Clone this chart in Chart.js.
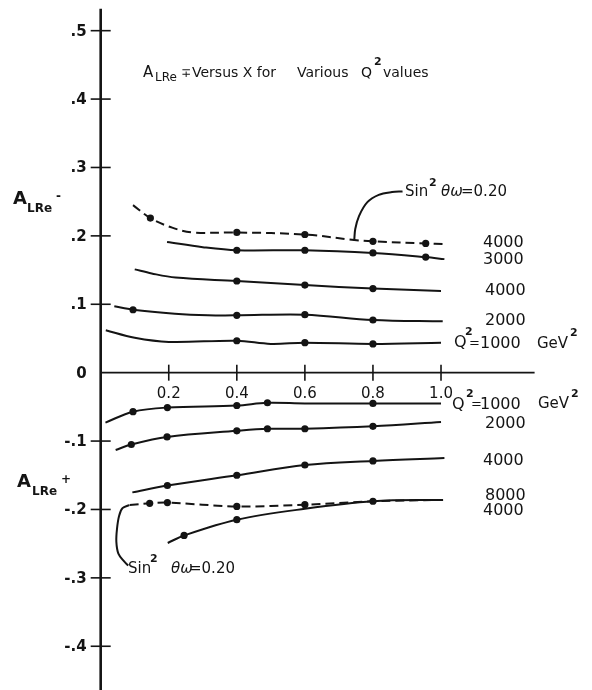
<!DOCTYPE html>
<html>
<head>
<meta charset="utf-8">
<script src="https://cdn.jsdelivr.net/npm/chart.js@4.4.1/dist/chart.umd.min.js"></script>
<style>
  html, body { margin: 0; padding: 0; background: #fff; }
  canvas { display: block; }
</style>
</head>
<body>
<canvas id="chart" width="592" height="690"></canvas>
<script>
// ── Axis ticks ───────────────────────────────────────────────────────────────
const xTicks      = [0.2, 0.4, 0.6, 0.8, 1.0];
const xTickLabels = ['0.2', '0.4', '0.6', '0.8', '1.0'];
const yTicks      = [0.5, 0.4, 0.3, 0.2, 0.1, 0, -0.1, -0.2, -0.3, -0.4];
const yTickLabels = ['.5', '.4', '.3', '.2', '.1', '0', '-.1', '-.2', '-.3', '-.4'];

// ── A_LRe- curves (upper half) ───────────────────────────────────────────────
const minusS020Q4000X = [0.095, 0.146, 0.21, 0.27, 0.40, 0.60, 0.745, 0.80, 0.955, 1.01];
const minusS020Q4000Y = [0.245, 0.226, 0.212, 0.205, 0.205, 0.202, 0.194, 0.192, 0.189, 0.188];
const minusS020Q4000DotX = [0.146, 0.40, 0.60, 0.80, 0.955];
const minusS020Q4000DotY = [0.226, 0.205, 0.202, 0.192, 0.189];

const minusQ3000X = [0.195, 0.30, 0.40, 0.60, 0.80, 0.955, 1.01];
const minusQ3000Y = [0.191, 0.1835, 0.179, 0.179, 0.175, 0.169, 0.166];
const minusQ3000DotX = [0.40, 0.60, 0.80, 0.955];
const minusQ3000DotY = [0.179, 0.179, 0.175, 0.169];

const minusQ4000X = [0.10, 0.15, 0.22, 0.40, 0.60, 0.80, 1.0];
const minusQ4000Y = [0.151, 0.145, 0.139, 0.134, 0.128, 0.123, 0.1195];
const minusQ4000DotX = [0.40, 0.60, 0.80];
const minusQ4000DotY = [0.134, 0.128, 0.123];

const minusQ2000X = [0.04, 0.095, 0.218, 0.315, 0.40, 0.60, 0.80, 1.005];
const minusQ2000Y = [0.097, 0.092, 0.0863, 0.084, 0.0838, 0.0848, 0.077, 0.075];
const minusQ2000DotX = [0.095, 0.40, 0.60, 0.80];
const minusQ2000DotY = [0.092, 0.0838, 0.0848, 0.077];

const minusQ1000X = [0.015, 0.10, 0.20, 0.40, 0.50, 0.60, 0.80, 1.0];
const minusQ1000Y = [0.062, 0.051, 0.045, 0.0467, 0.042, 0.0438, 0.042, 0.0438];
const minusQ1000DotX = [0.40, 0.60, 0.80];
const minusQ1000DotY = [0.0467, 0.0438, 0.042];

// ── A_LRe+ curves (lower half) ───────────────────────────────────────────────
const plusQ1000X = [0.014, 0.095, 0.196, 0.40, 0.49, 0.60, 0.80, 1.0];
const plusQ1000Y = [-0.073, -0.057, -0.051, -0.048, -0.044, -0.045, -0.045, -0.045];
const plusQ1000DotX = [0.095, 0.196, 0.40, 0.49, 0.80];
const plusQ1000DotY = [-0.057, -0.051, -0.048, -0.044, -0.045];

const plusQ2000X = [0.044, 0.09, 0.195, 0.40, 0.49, 0.60, 0.80, 1.0];
const plusQ2000Y = [-0.113, -0.105, -0.094, -0.085, -0.082, -0.082, -0.0785, -0.072];
const plusQ2000DotX = [0.09, 0.195, 0.40, 0.49, 0.60, 0.80];
const plusQ2000DotY = [-0.105, -0.094, -0.085, -0.082, -0.082, -0.0785];

const plusQ4000X = [0.093, 0.196, 0.40, 0.60, 0.80, 1.01];
const plusQ4000Y = [-0.175, -0.165, -0.150, -0.135, -0.129, -0.1247];
const plusQ4000DotX = [0.196, 0.40, 0.60, 0.80];
const plusQ4000DotY = [-0.165, -0.150, -0.135, -0.129];

const plusS020Q4000X = [0.085, 0.144, 0.196, 0.40, 0.60, 0.80, 1.006];
const plusS020Q4000Y = [-0.1935, -0.191, -0.190, -0.1955, -0.193, -0.188, -0.186];
const plusS020Q4000DotX = [0.144, 0.196, 0.40, 0.60, 0.80];
const plusS020Q4000DotY = [-0.191, -0.190, -0.1955, -0.193, -0.188];

const plusQ8000X = [0.197, 0.245, 0.40, 0.60, 0.80, 1.006];
const plusQ8000Y = [-0.249, -0.238, -0.215, -0.199, -0.188, -0.186];
const plusQ8000DotX = [0.245, 0.40];
const plusQ8000DotY = [-0.238, -0.215];

// ── Leader lines of the Sin²θw = 0.20 notes ──────────────────────────────────
const upperLeaderX = [0.745, 0.748, 0.759, 0.783, 0.817, 0.856, 0.887];
const upperLeaderY = [0.193, 0.21, 0.229, 0.249, 0.26, 0.264, 0.265];
const lowerLeaderX = [0.084, 0.064, 0.054, 0.048, 0.046, 0.052, 0.069, 0.081];
const lowerLeaderY = [-0.1936, -0.198, -0.2095, -0.228, -0.247, -0.2645, -0.276, -0.282];

// ── Helpers ──────────────────────────────────────────────────────────────────
const INK  = '#141414';
const FONT = "'DejaVu Sans', sans-serif";

function pts(xs, ys) {
    return xs.map((x, i) => ({ x: x, y: ys[i] }));
}

function curve(xs, ys, dashed) {
    return {
        type: 'line',
        data: pts(xs, ys),
        borderColor: INK,
        borderWidth: 2,
        borderDash: dashed ? [9, 5] : [],
        pointRadius: 0,
        tension: 0.35,
        fill: false
    };
}

function dots(xs, ys) {
    return {
        type: 'scatter',
        data: pts(xs, ys),
        backgroundColor: INK,
        borderColor: INK,
        borderWidth: 0,
        pointRadius: 3.6,
        showLine: false
    };
}

function txt(ctx, s, x, y, size, opts = {}) {
    ctx.font = `${opts.italic ? 'italic ' : ''}${opts.bold ? 'bold ' : ''}${size}px ${FONT}`;
    ctx.textAlign = opts.align || 'left';
    ctx.textBaseline = opts.baseline || 'alphabetic';
    ctx.fillText(s, x, y);
}

// ── Axes, ticks and lettering ────────────────────────────────────────────────
const yAxisTop = 0.532;
const xAxisEnd = 1.275;

const handAxes = {
    id: 'handAxes',
    beforeDatasetsDraw(chart) {
        const { ctx, scales: { x, y } } = chart;
        const x0 = x.getPixelForValue(0);
        const y0 = y.getPixelForValue(0);
        ctx.save();
        ctx.strokeStyle = INK;
        ctx.fillStyle = INK;

        // vertical axis
        ctx.lineWidth = 2.6;
        ctx.beginPath();
        ctx.moveTo(x0, y.getPixelForValue(yAxisTop));
        ctx.lineTo(x0, chart.height);
        ctx.stroke();

        // horizontal axis
        ctx.lineWidth = 1.6;
        ctx.beginPath();
        ctx.moveTo(x0, y0);
        ctx.lineTo(x.getPixelForValue(xAxisEnd), y0);
        ctx.stroke();

        // y ticks (crosses) and labels
        yTicks.forEach((v, i) => {
            const py = y.getPixelForValue(v);
            if (v !== 0) {
                ctx.lineWidth = 1.6;
                ctx.beginPath();
                ctx.moveTo(x0 - 10, py);
                ctx.lineTo(x0 + 10, py);
                ctx.stroke();
            }
            txt(ctx, yTickLabels[i], x0 - 14, py + 1, 15, { bold: true, align: 'right', baseline: 'middle' });
        });

        // x ticks and labels
        xTicks.forEach((v, i) => {
            const px = x.getPixelForValue(v);
            ctx.lineWidth = 1.6;
            ctx.beginPath();
            ctx.moveTo(px, y0 - 8);
            ctx.lineTo(px, y0 + 8);
            ctx.stroke();
            txt(ctx, xTickLabels[i], px, y0 + 21, 15, { align: 'center', baseline: 'middle' });
        });

        ctx.restore();
    },
    afterDatasetsDraw(chart) {
        const ctx = chart.ctx;
        ctx.save();
        ctx.fillStyle = INK;

        // title
        txt(ctx, 'A', 143, 77, 15);
        txt(ctx, 'LRe', 155, 81, 12);
        txt(ctx, '∓', 181, 77, 12);
        txt(ctx, 'Versus X for', 192, 77, 14);
        txt(ctx, 'Various', 297, 77, 14);
        txt(ctx, 'Q', 361, 77, 14);
        txt(ctx, '2', 374, 65, 11, { bold: true });
        txt(ctx, 'values', 383, 77, 14);

        // axis names
        txt(ctx, 'A', 13, 204, 18, { bold: true });
        txt(ctx, 'LRe', 27, 212, 12, { bold: true });
        txt(ctx, '-', 56, 200, 12, { bold: true });
        txt(ctx, 'A', 17, 487, 18, { bold: true });
        txt(ctx, 'LRe', 32, 495, 12, { bold: true });
        txt(ctx, '+', 61, 483, 12, { bold: true });

        // upper curve labels
        txt(ctx, '4000', 483, 247, 16);
        txt(ctx, '3000', 483, 264, 16);
        txt(ctx, '4000', 485, 295, 16);
        txt(ctx, '2000', 485, 325, 16);
        txt(ctx, 'Q', 454, 347, 16);
        txt(ctx, '2', 465, 335, 11, { bold: true });
        txt(ctx, '=', 469, 347, 13);
        txt(ctx, '1000', 480, 348, 16);
        txt(ctx, 'GeV', 537, 348, 15);
        txt(ctx, '2', 570, 336, 11, { bold: true });

        // lower curve labels
        txt(ctx, 'Q', 452, 409, 16);
        txt(ctx, '2', 466, 397, 11, { bold: true });
        txt(ctx, '=', 471, 408, 13);
        txt(ctx, '1000', 480, 409, 16);
        txt(ctx, 'GeV', 538, 408, 15);
        txt(ctx, '2', 571, 397, 11, { bold: true });
        txt(ctx, '2000', 485, 428, 16);
        txt(ctx, '4000', 483, 465, 16);
        txt(ctx, '8000', 485, 500, 16);
        txt(ctx, '4000', 483, 515, 16);

        // Sin²θw notes
        txt(ctx, 'Sin', 405, 196, 15);
        txt(ctx, '2', 429, 186, 11, { bold: true });
        txt(ctx, 'θω', 441, 196, 15, { italic: true });
        txt(ctx, '=0.20', 461, 196, 15);
        txt(ctx, 'Sin', 128, 573, 15);
        txt(ctx, '2', 150, 562, 11, { bold: true });
        txt(ctx, 'θω', 171, 573, 15, { italic: true });
        txt(ctx, '=0.20', 189, 573, 15);

        ctx.restore();
    }
};

// ── Chart ────────────────────────────────────────────────────────────────────
function initChart() {
    const ctx = document.getElementById('chart').getContext('2d');

    new Chart(ctx, {
        type: 'line',
        data: {
            datasets: [
                curve(minusS020Q4000X, minusS020Q4000Y, true),
                dots(minusS020Q4000DotX, minusS020Q4000DotY),
                curve(minusQ3000X, minusQ3000Y),
                dots(minusQ3000DotX, minusQ3000DotY),
                curve(minusQ4000X, minusQ4000Y),
                dots(minusQ4000DotX, minusQ4000DotY),
                curve(minusQ2000X, minusQ2000Y),
                dots(minusQ2000DotX, minusQ2000DotY),
                curve(minusQ1000X, minusQ1000Y),
                dots(minusQ1000DotX, minusQ1000DotY),
                curve(plusQ1000X, plusQ1000Y),
                dots(plusQ1000DotX, plusQ1000DotY),
                curve(plusQ2000X, plusQ2000Y),
                dots(plusQ2000DotX, plusQ2000DotY),
                curve(plusQ4000X, plusQ4000Y),
                dots(plusQ4000DotX, plusQ4000DotY),
                curve(plusS020Q4000X, plusS020Q4000Y, true),
                dots(plusS020Q4000DotX, plusS020Q4000DotY),
                curve(plusQ8000X, plusQ8000Y),
                dots(plusQ8000DotX, plusQ8000DotY),
                curve(upperLeaderX, upperLeaderY),
                curve(lowerLeaderX, lowerLeaderY)
            ]
        },
        options: {
            responsive: false,
            animation: false,
            devicePixelRatio: 1,
            layout: { padding: 0 },
            plugins: {
                legend: { display: false },
                tooltip: { enabled: false }
            },
            scales: {
                x: { type: 'linear', min: -0.2841, max: 1.4319, display: false },
                y: { type: 'linear', min: -0.4581, max: 0.5390, display: false }
            }
        },
        plugins: [handAxes]
    });
}

document.addEventListener('DOMContentLoaded', initChart);
</script>
</body>
</html>
